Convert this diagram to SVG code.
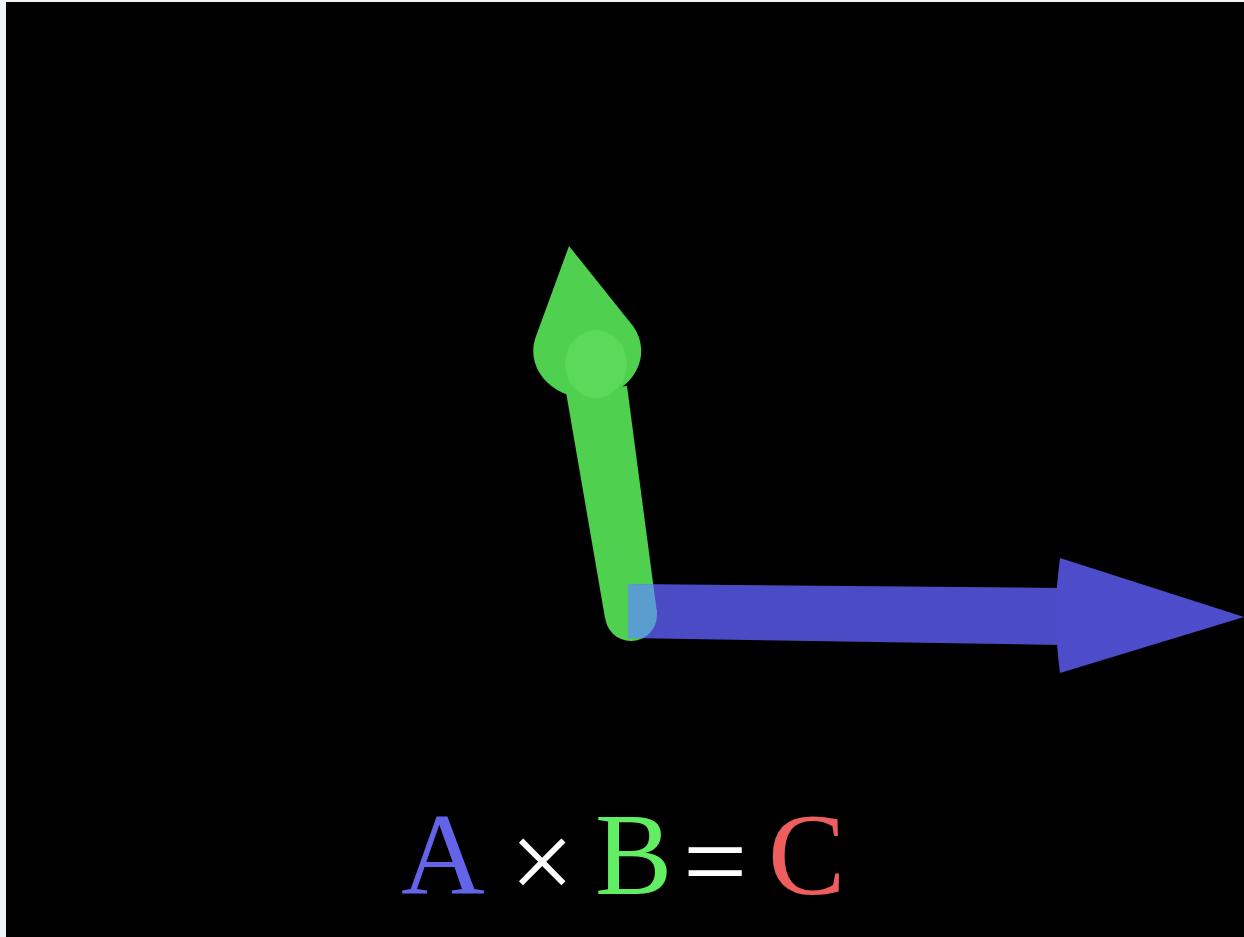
<svg xmlns="http://www.w3.org/2000/svg" width="1244" height="937" viewBox="0 0 1244 937">
<style>
.eq{font-family:"Liberation Serif","Times New Roman",serif;font-size:116px}
.op{font-family:"Liberation Serif","Times New Roman",serif;fill:#ffffff;font-size:114px}
.g{fill:#4fd04f}
</style>
<defs>
<clipPath id="blueClip"><polygon points="628,584 1062,588 1062,645 628,638"/></clipPath>
<g id="gshaft"><polygon points="566,392 627,386 657,613 605,618"/><circle cx="631" cy="615" r="26"/></g>
</defs>
<rect x="0" y="0" width="1244" height="937" fill="#eef4f8"/>
<rect x="6" y="2" width="1238" height="935" fill="#000000"/>
<g id="vectorB">
<use href="#gshaft" class="g"/>
<path class="g" d="M569,246 L633,326 A54,47 0 1 1 535,339 Z"/>
<ellipse cx="596" cy="364" rx="31" ry="34" fill="#5ad95a"/>
</g>
<g id="vectorA">
<polygon points="628,584 1062,588 1062,645 628,638" fill="#4b4bc6"/>
<g clip-path="url(#blueClip)"><use href="#gshaft" fill="#5a9ed0"/></g>
<path d="M1060,558 Q1052,615 1060,673 L1244,617 Z" fill="#4d4dcc"/>
</g>
<g id="equation">
<text class="eq" x="401" y="894" fill="#6464ea">A</text>
<text class="op" x="510" y="900">×</text>
<text class="eq" x="595" y="894" fill="#62ee62">B</text>
<text class="op" x="683" y="900">=</text>
<text class="eq" x="768" y="894" fill="#ee5e5e">C</text>
</g>
</svg>
